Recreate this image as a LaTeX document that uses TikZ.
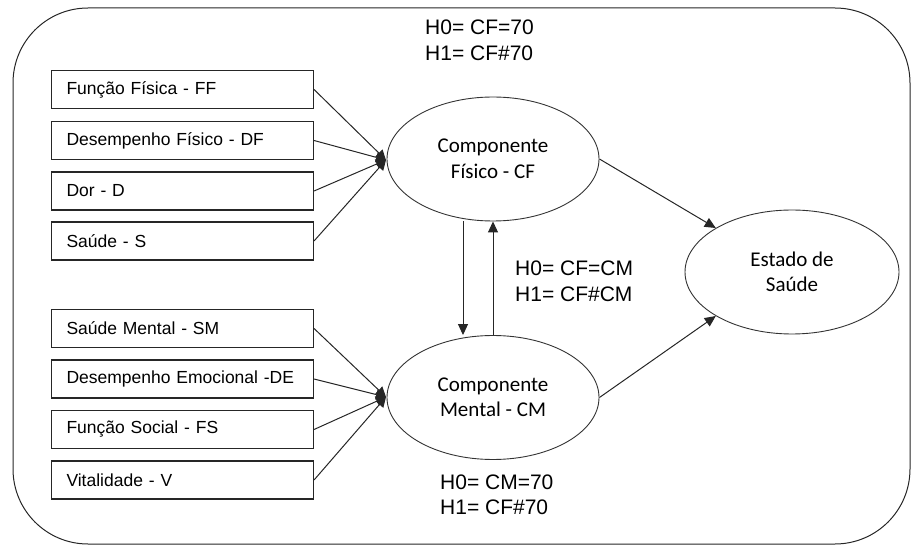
\documentclass[tikz,border=0pt]{standalone}
\usepackage{fontspec}
\setmainfont{Liberation Sans}
\newfontfamily\calibfont{Carlito}
\usetikzlibrary{arrows.meta,shapes.geometric}

\begin{document}
\begin{tikzpicture}[x=1pt,y=-1pt]
      \tikzstyle{every node}+=[inner sep=0pt]
      \tikzstyle{dimbox}=[draw=black!85, line width=1.1pt, minimum width=262pt, minimum height=38pt, text width=232pt, align=left, font=\fontsize{17.5}{20}\selectfont]
      \tikzstyle{comp}=[draw=black!80, line width=0.9pt, ellipse, minimum width=212pt, minimum height=124pt, align=center, font=\calibfont\fontsize{21}{25.5}\selectfont]
      \tikzstyle{hyp}=[anchor=west, align=left, font=\fontsize{21}{25.5}\selectfont]
      \tikzstyle{feed}=[draw=black!85, line width=1pt, -{Triangle[length=10pt,width=10pt]}]
      \tikzstyle{conn}=[draw=black!85, line width=1pt, -{Triangle[length=11pt,width=10pt]}]
      \useasboundingbox (0,0) rectangle (911,545);
      \draw [black!85, line width=1pt, rounded corners=75pt] (13,8) rectangle (910,544);
      \node [dimbox] (ff) at (182.5,89.5) {Função Física - FF};
      \node [dimbox] (df) at (182.5,140.5) {Desempenho Físico - DF};
      \node [dimbox] (dd) at (182.5,191) {Dor - D};
      \node [dimbox] (ss) at (182.5,241) {Saúde - S};
      \node [dimbox] (sm) at (182.5,328.5) {Saúde Mental - SM};
      \node [dimbox] (de) at (182.5,379) {Desempenho Emocional -DE};
      \node [dimbox] (fs) at (182.5,429.5) {Função Social - FS};
      \node [dimbox] (vv) at (182.5,480) {Vitalidade - V};
      \node [comp] (cf) at (493,159) {Componente\\Físico - CF};
      \node [comp] (cm) at (493,397.5) {Componente\\Mental - CM};
      \node [comp, minimum width=214pt] (es) at (792,272) {Estado de\\Saúde};
      \coordinate (jcf) at (386,160);
      \coordinate (jcm) at (386,397);
      \draw [feed] (ff.east) -- (jcf);
      \draw [feed] (df.east) -- (jcf);
      \draw [feed] (dd.east) -- (jcf);
      \draw [feed] (ss.east) -- (jcf);
      \draw [feed] (sm.east) -- (jcm);
      \draw [feed] (de.east) -- (jcm);
      \draw [feed] (fs.east) -- (jcm);
      \draw [feed] (vv.east) -- (jcm);
      \draw [conn] (cf.east) -- (es.150);
      \draw [conn] (cm.east) -- (es.210);
      \draw [conn] ([xshift=-30pt]cf.south) -- ([xshift=-30pt]cf.south |- cm.north);
      \draw [conn] (cm.north) -- (cf.south);
      \node [hyp] (hcf) at (425,40.5) {H0= CF=70\\H1= CF\#70};
      \node [hyp] (hcc) at (515,281.5) {H0= CF=CM\\H1= CF\#CM};
      \node [hyp] (hcm) at (440,495) {H0= CM=70\\H1= CF\#70};
\end{tikzpicture}
\end{document}
